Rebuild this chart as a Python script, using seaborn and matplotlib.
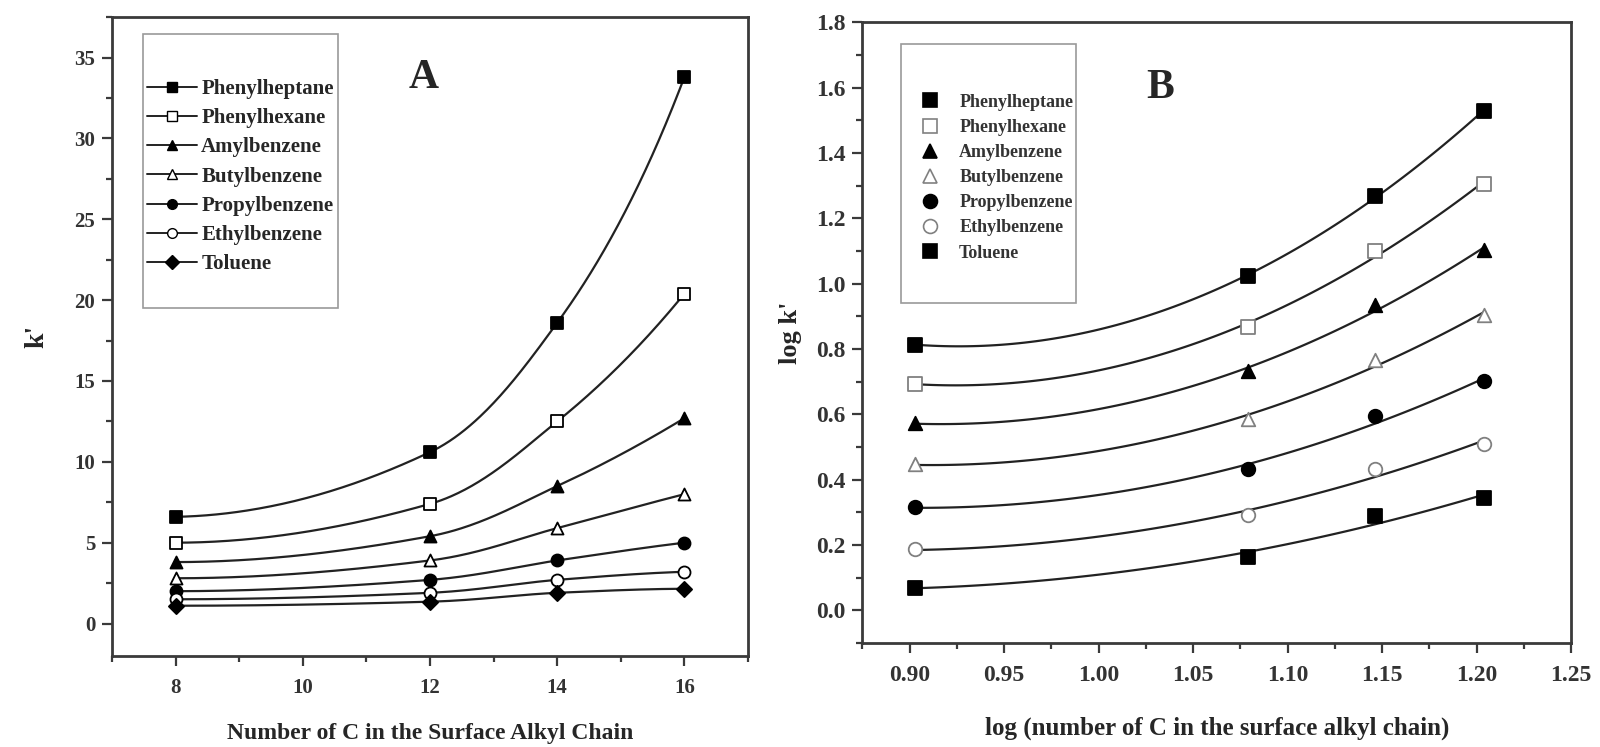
import numpy as np
import pandas as pd
import seaborn as sns
import matplotlib.pyplot as plt
from matplotlib.lines import Line2D
from matplotlib.patches import Rectangle
from matplotlib.ticker import MultipleLocator, FormatStrFormatter

# datos
carbons = [8, 12, 14, 16]
log_carbons = [0.903, 1.079, 1.146, 1.204]

compounds = ["Phenylheptane", "Phenylhexane", "Amylbenzene", "Butylbenzene",
             "Propylbenzene", "Ethylbenzene", "Toluene"]

# panel A: k'
k_phenylheptane = [6.6, 10.6, 18.6, 33.8]
k_phenylhexane = [5.0, 7.4, 12.5, 20.4]
k_amylbenzene = [3.8, 5.4, 8.5, 12.7]
k_butylbenzene = [2.8, 3.9, 5.9, 8.0]
k_propylbenzene = [2.0, 2.7, 3.9, 5.0]
k_ethylbenzene = [1.5, 1.9, 2.7, 3.2]
k_toluene = [1.1, 1.35, 1.9, 2.15]

# panel B: log k'
logk_phenylheptane = [0.814, 1.024, 1.268, 1.530]
logk_phenylhexane = [0.694, 0.869, 1.099, 1.306]
logk_amylbenzene = [0.573, 0.732, 0.934, 1.104]
logk_butylbenzene = [0.447, 0.586, 0.767, 0.905]
logk_propylbenzene = [0.316, 0.433, 0.595, 0.701]
logk_ethylbenzene = [0.187, 0.291, 0.433, 0.510]
logk_toluene = [0.070, 0.163, 0.289, 0.344]

k_series = [k_phenylheptane, k_phenylhexane, k_amylbenzene, k_butylbenzene,
            k_propylbenzene, k_ethylbenzene, k_toluene]
logk_series = [logk_phenylheptane, logk_phenylhexane, logk_amylbenzene,
               logk_butylbenzene, logk_propylbenzene, logk_ethylbenzene, logk_toluene]

markers = ["s", "s", "^", "^", "o", "o", "D"]
markers_b = ["s", "s", "^", "^", "o", "o", "s"]
hollow = [False, True, False, True, False, True, False]


def pchip(x, y, xs):
    # curva suave monotona que pasa por los puntos (tipo PCHIP)
    x = np.asarray(x, float)
    y = np.asarray(y, float)
    h = np.diff(x)
    d = np.diff(y) / h
    m = np.zeros_like(y)
    for k in range(1, len(x) - 1):
        if d[k - 1] * d[k] > 0:
            w1 = 2 * h[k] + h[k - 1]
            w2 = h[k] + 2 * h[k - 1]
            m[k] = (w1 + w2) / (w1 / d[k - 1] + w2 / d[k])

    def end_slope(h0, h1, d0, d1):
        s = ((2 * h0 + h1) * d0 - h0 * d1) / (h0 + h1)
        if np.sign(s) != np.sign(d0):
            return 0.0
        if np.sign(d0) != np.sign(d1) and abs(s) > abs(3 * d0):
            return 3 * d0
        return s

    m[0] = end_slope(h[0], h[1], d[0], d[1])
    m[-1] = end_slope(h[-1], h[-2], d[-1], d[-2])
    i = np.clip(np.searchsorted(x, xs) - 1, 0, len(x) - 2)
    t = (xs - x[i]) / h[i]
    return ((2 * t**3 - 3 * t**2 + 1) * y[i] + (t**3 - 2 * t**2 + t) * h[i] * m[i]
            + (-2 * t**3 + 3 * t**2) * y[i + 1] + (t**3 - t**2) * h[i] * m[i + 1])


# estilo
sns.set_theme(style="ticks")
plt.rcParams['font.family'] = ['Liberation Serif', 'DejaVu Serif']
plt.rcParams['font.weight'] = 'bold'
plt.rcParams['axes.labelweight'] = 'bold'

ink = "#222222"
spine_col = "#3a3a3a"

fig = plt.figure(figsize=(16, 7.47), dpi=100)
axA = fig.add_axes([0.070, 0.122, 0.3975, 0.855])
axB = fig.add_axes([0.539, 0.139, 0.443, 0.831])

# ---- Panel A ----
handles_a = []
for name, vals, m, h in zip(compounds, k_series, markers, hollow):
    df = pd.DataFrame({"C": carbons, "k": vals})
    xs = np.linspace(min(carbons), max(carbons), 300)
    # curva suave en escala logaritmica
    sns.lineplot(x=xs, y=np.exp(pchip(carbons, np.log(vals), xs)), color=ink,
                 lw=1.6, ax=axA, zorder=2)
    sns.scatterplot(data=df, x="C", y="k", marker=m, s=75 if m != "D" else 60,
                    color="white" if h else "black", edgecolor="black",
                    linewidth=1.3, ax=axA, zorder=3)
    handles_a.append(Line2D([], [], color=ink, lw=1.4, marker=m, markersize=7,
                            markerfacecolor="white" if h else "black",
                            markeredgecolor="black", label=name))

axA.set_xlim(7, 17)
axA.set_ylim(-2, 37.5)
axA.set_xticks([8, 10, 12, 14, 16])
axA.xaxis.set_minor_locator(MultipleLocator(1))
axA.yaxis.set_major_locator(MultipleLocator(5))
axA.yaxis.set_minor_locator(MultipleLocator(2.5))
axA.set_xlabel("Number of C in the Surface Alkyl Chain", fontsize=17, labelpad=18)
axA.set_ylabel("k'", fontsize=20, labelpad=18)

axA.add_patch(Rectangle((0.049, 0.545), 0.306, 0.428, transform=axA.transAxes,
                        fill=False, edgecolor="#9a9a9a", lw=1.2, zorder=4))
axA.legend(handles=handles_a, loc="upper left", bbox_to_anchor=(0.055, 0.903),
           frameon=False, fontsize=15, handlelength=2.4, handletextpad=0.2,
           labelspacing=0.44, borderpad=0, borderaxespad=0)
axA.text(0.49, 0.905, "A", transform=axA.transAxes, fontsize=30,
         fontweight="bold", ha="center", va="center")

# ---- Panel B ----
handles_b = []
for name, vals, m, h in zip(compounds, logk_series, markers_b, hollow):
    df = pd.DataFrame({"logC": log_carbons, "logk": vals})
    sns.regplot(data=df, x="logC", y="logk", order=2, ci=None, scatter=False, ax=axB,
                line_kws={"color": ink, "lw": 1.6, "zorder": 2})
    sns.scatterplot(data=df, x="logC", y="logk", marker=m, s=95,
                    color="white" if h else "black",
                    edgecolor="#808080" if h else "black",
                    linewidth=1.3, ax=axB, zorder=3)
    handles_b.append(Line2D([], [], lw=0, marker=m, markersize=10,
                            markerfacecolor="white" if h else "black",
                            markeredgecolor="#808080" if h else "black",
                            markeredgewidth=1.2, label=name))

axB.set_xlim(0.875, 1.25)
axB.set_ylim(-0.1, 1.8)
axB.xaxis.set_major_locator(MultipleLocator(0.05))
axB.xaxis.set_minor_locator(MultipleLocator(0.025))
axB.xaxis.set_major_formatter(FormatStrFormatter("%.2f"))
axB.yaxis.set_major_locator(MultipleLocator(0.2))
axB.yaxis.set_minor_locator(MultipleLocator(0.1))
axB.yaxis.set_major_formatter(FormatStrFormatter("%.1f"))
axB.set_xlabel("log (number of C in the surface alkyl chain)", fontsize=18, labelpad=22)
axB.set_ylabel("log k'", fontsize=19, labelpad=10)

axB.add_patch(Rectangle((0.055, 0.548), 0.247, 0.418, transform=axB.transAxes,
                        fill=False, edgecolor="#9a9a9a", lw=1.2, zorder=4))
axB.legend(handles=handles_b, loc="upper left", bbox_to_anchor=(0.083, 0.885),
           frameon=False, fontsize=13, handlelength=1.0, handletextpad=1.1,
           labelspacing=0.45, borderpad=0, borderaxespad=0, labelcolor="#333333")
axB.text(0.42, 0.895, "B", transform=axB.transAxes, fontsize=30,
         fontweight="bold", ha="center", va="center")

for ax, size in ((axA, 15), (axB, 17)):
    for sp in ax.spines.values():
        sp.set_visible(True)
        sp.set_color(spine_col)
        sp.set_linewidth(2)
    ax.tick_params(which="both", direction="out", top=False, right=False,
                   color=spine_col, width=1.6)
    ax.tick_params(which="major", length=7, labelsize=size)
    ax.tick_params(axis="y", which="major", pad=5)
    ax.tick_params(axis="x", which="major", pad=9)
    ax.tick_params(which="minor", length=4)
    for lab in ax.get_xticklabels() + ax.get_yticklabels():
        lab.set_fontweight("bold")
        lab.set_color("#333333")
    ax.set_facecolor("white")

fig.savefig("out.png", dpi=100, facecolor="white")
